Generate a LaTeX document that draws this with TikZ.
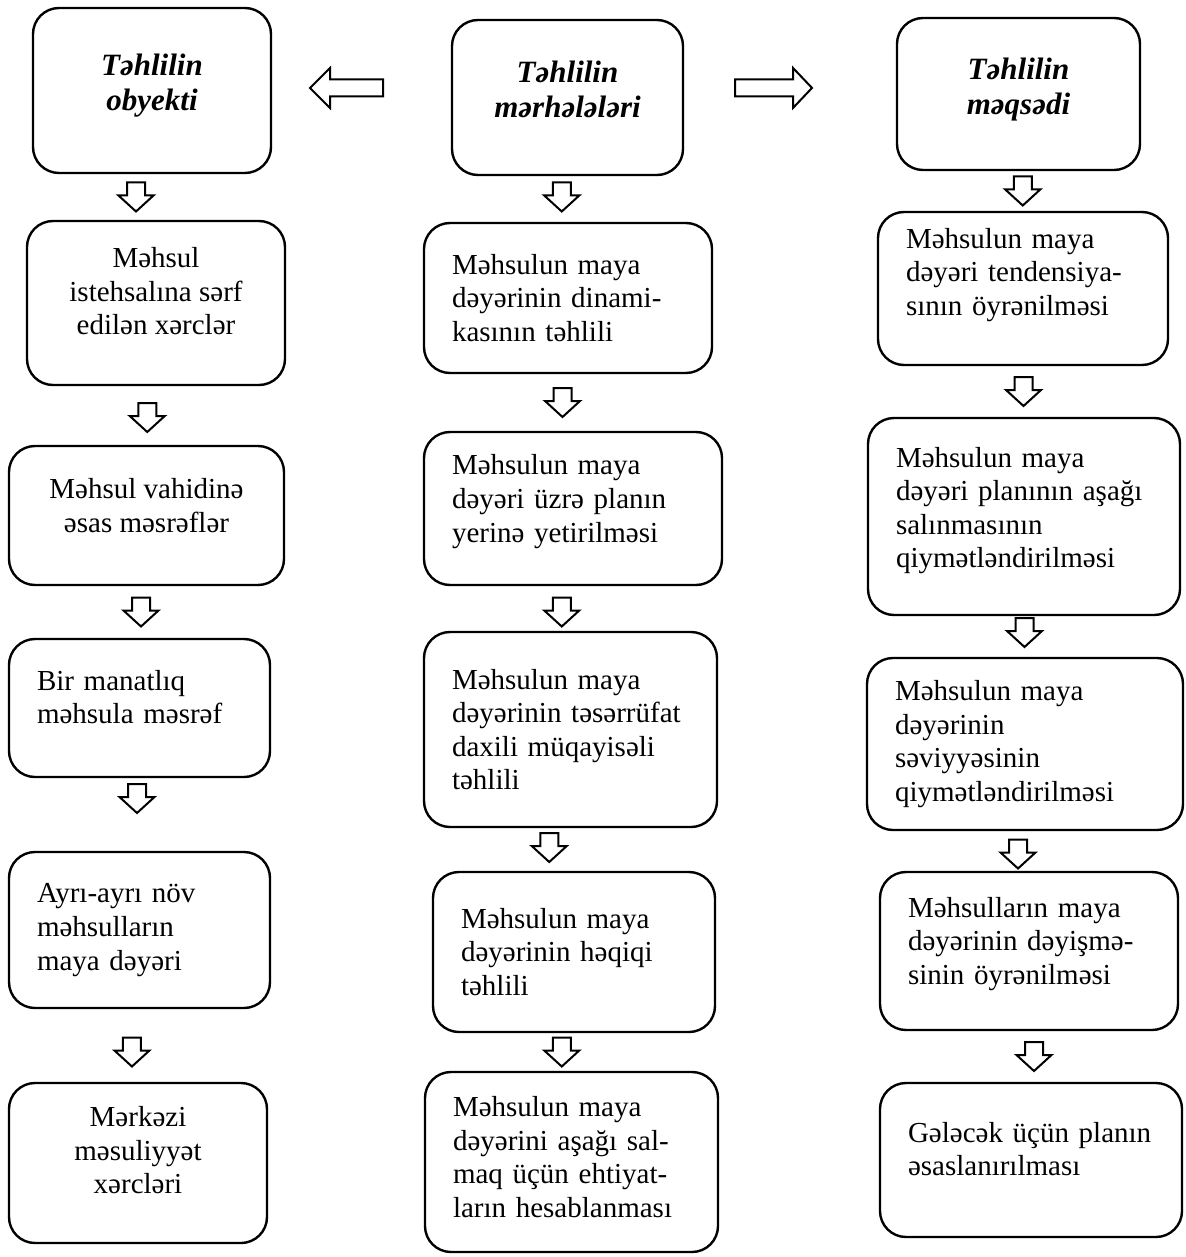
\documentclass[tikz,border=0pt]{standalone}
\usepackage{fontspec}
\setmainfont{Liberation Serif}
\usetikzlibrary{calc}

\begin{document}
\begin{tikzpicture}[
  x=0.5pt, y=-0.5pt,
  box/.style={draw, line width=1.2pt, rounded corners=13pt,
              font=\fontsize{14.5}{16.8}\selectfont},
  cbox/.style={box, align=center},
  lbox/.style={box, align=left, inner xsep=14pt},
  title/.style={box, align=center,
                font=\fontsize{15.5}{17.5}\selectfont\bfseries\itshape},
  lift/.style={execute at end node={\\[#1]\mbox{}}},
  darr/.pic={\draw[line width=1pt] (-9,-14.5) -- (9,-14.5) -- (9,-1.5)
               -- (17.5,-1.5) -- (0,14.5) -- (-17.5,-1.5) -- (-9,-1.5) -- cycle;},
  larr/.pic={\draw[line width=1pt] (-36.5,0) -- (-16.5,-20) -- (-16.5,-8.5)
               -- (36.5,-8.5) -- (36.5,8.5) -- (-16.5,8.5) -- (-16.5,20) -- cycle;},
  rarr/.pic={\draw[line width=1pt] (38.5,0) -- (19.5,-20) -- (19.5,-8.5)
               -- (-38.5,-8.5) -- (-38.5,8.5) -- (19.5,8.5) -- (19.5,20) -- cycle;},
]
  \useasboundingbox (0,0) rectangle (1185,1257);

  % Top row
  \node[title, minimum width=119pt, minimum height=82.5pt] (ob)
    at (152,90.5) {Təhlilin\\obyekti\\[-9.5pt]};
  \node[title, minimum width=115.5pt, minimum height=77.5pt] (mt)
    at (567.5,97.5) {Təhlilin\\mərhələləri\\[-9.5pt]};
  \node[title, minimum width=121.5pt, minimum height=76pt] (mq)
    at (1018.5,94) {Təhlilin\\məqsədi\\[-9.5pt]};

  % Left column
  \node[cbox, minimum width=129pt, minimum height=82pt] (o1)
    at (156,303) {Məhsul\\istehsalına sərf\\edilən xərclər\\[-4.8pt]};
  \node[cbox, minimum width=137.5pt, minimum height=69.5pt] (o2)
    at (146.5,515.5) {Məhsul vahidinə\\əsas məsrəflər\\[-6.8pt]};
  \node[lbox, lift=-5.8pt, text width=102.5pt, minimum height=69pt] (o3)
    at (139.5,708) {Bir manatlıq\\məhsula məsrəf};
  \node[lbox, text width=102.5pt, minimum height=78pt] (o4)
    at (139.5,930) {Ayrı-ayrı növ\\məhsulların\\maya dəyəri};
  \node[cbox, minimum width=129pt, minimum height=80pt] (o5)
    at (138,1163) {Mərkəzi\\məsuliyyət\\xərcləri\\[-3.8pt]};

  % Middle column
  \node[lbox, text width=116pt, minimum height=75pt] (m1)
    at (568,298) {Məhsulun maya\\dəyərinin dinami-\\kasının təhlili};
  \node[lbox, lift=-6.7pt, text width=121pt, minimum height=76.5pt] (m2)
    at (573,508.5) {Məhsulun maya\\dəyəri üzrə planın\\yerinə yetirilməsi};
  \node[lbox, text width=118.5pt, minimum height=97.5pt] (m3)
    at (570.5,729.5) {Məhsulun maya\\dəyərinin təsərrüfat\\daxili müqayisəli\\təhlili};
  \node[lbox, text width=113pt, minimum height=80pt] (m4)
    at (574,952) {Məhsulun maya\\dəyərinin həqiqi\\təhlili};
  \node[lbox, lift=-11.8pt, text width=118.5pt, minimum height=90pt] (m5)
    at (571.5,1162) {Məhsulun maya\\dəyərini aşağı sal-\\maq üçün ehtiyat-\\ların hesablanması};

  % Right column
  \node[lbox, lift=0pt, text width=117pt, minimum height=76.5pt] (t1)
    at (1023,288.5) {Məhsulun maya\\dəyəri tendensiya-\\sının öyrənilməsi};
  \node[lbox, lift=-7.7pt, text width=128pt, minimum height=98.5pt] (t2)
    at (1024,516.5) {Məhsulun maya\\dəyəri planının aşağı\\salınmasının\\qiymətləndirilməsi};
  \node[lbox, text width=130pt, minimum height=86pt] (t3)
    at (1025,744) {Məhsulun maya\\dəyərinin\\səviyyəsinin\\qiymətləndirilməsi};
  \node[lbox, lift=-6.7pt, text width=121pt, minimum height=79pt] (t4)
    at (1029,951) {Məhsulların maya\\dəyərinin dəyişmə-\\sinin öyrənilməsi};
  \node[lbox, lift=-5.8pt, text width=123pt, minimum height=77pt] (t5)
    at (1031,1160) {Gələcək üçün planın\\əsaslanırılması};

  % Side arrows
  \pic[xshift=-7.5pt, yshift=3pt] at ($(ob.east)!.5!(mt.west)$) {larr};
  \pic[xshift=-8.25pt, yshift=3.9pt] at ($(mt.east)!.5!(mq.west)$) {rarr};

  % Down arrows
  \pic[xshift=-9pt] at ($(ob.south)!.5!(o1.north)$) {darr};
  \pic[xshift=-2pt, yshift=-1pt] at ($(o1.south)!.5!(o2.north)$) {darr};
  \pic[xshift=-1pt] at ($(o2.south)!.5!(o3.north)$) {darr};
  \pic[xshift=-1.25pt, yshift=8pt] at ($(o3.south)!.5!(o4.north)$) {darr};
  \pic[xshift=-3.4pt, yshift=-3.25pt] at ($(o4.south)!.5!(o5.north)$) {darr};

  \pic[xshift=-3pt, yshift=1pt] at ($(mt.south)!.5!(m1.north)$) {darr};
  \pic[xshift=-4pt] at ($(m1.south)!.5!(m2.north)$) {darr};
  \pic[xshift=-5pt, yshift=-1.75pt] at ($(m2.south)!.5!(m3.north)$) {darr};
  \pic[xshift=-11.5pt, yshift=1pt] at ($(m3.south)!.5!(m4.north)$) {darr};
  \pic[xshift=-5.5pt] at ($(m4.south)!.5!(m5.north)$) {darr};

  \pic[xshift=1pt] at ($(mq.south)!.5!(t1.north)$) {darr};
  \pic at ($(t1.south)!.5!(t2.north)$) {darr};
  \pic[yshift=2pt] at ($(t2.south)!.5!(t3.north)$) {darr};
  \pic[xshift=-4.5pt, yshift=-1.5pt] at ($(t3.south)!.5!(t4.north)$) {darr};
  \pic[xshift=2pt] at ($(t4.south)!.5!(t5.north)$) {darr};
\end{tikzpicture}
\end{document}
